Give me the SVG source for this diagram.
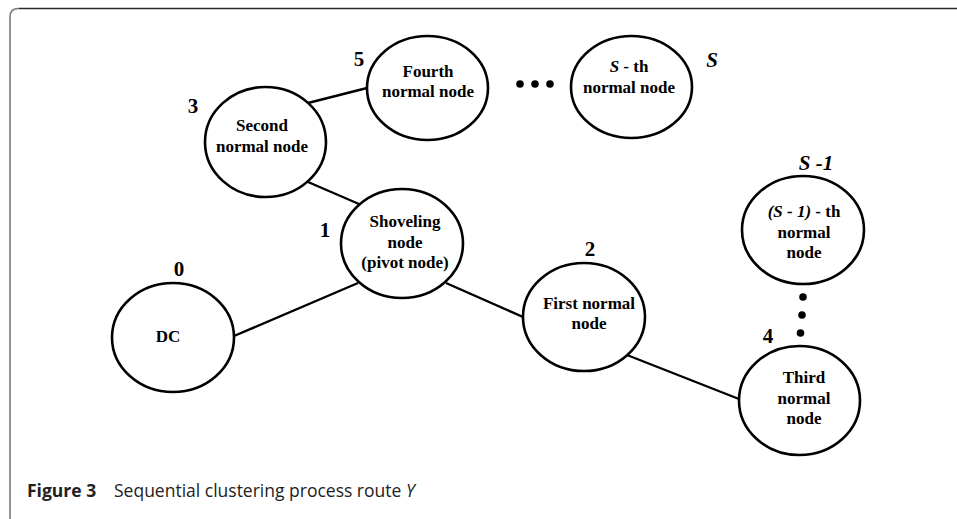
<svg xmlns="http://www.w3.org/2000/svg" width="957" height="519" viewBox="0 0 957 519">
  <style>
    .node ellipse { fill: #ffffff; stroke: #000000; stroke-width: 2.6; }
    .lbl { font-family: "Liberation Serif", "Times New Roman", serif; font-weight: bold; font-size: 17px; fill: #000; text-anchor: middle; }
    .num { font-family: "Liberation Serif", "Times New Roman", serif; font-weight: bold; font-size: 21px; fill: #000; text-anchor: middle; }
    .it { font-style: italic; }
    .edge { stroke: #000; stroke-width: 2.4; fill: none; }
    .dot { fill: #000; }
    .cap { font-family: "Open Sans", "Noto Sans", sans-serif; font-size: 17.5px; fill: #222; }
  </style>

  <!-- panel frame -->
  <path d="M 10 519 L 10 17 Q 10 8.5 18.5 8.5" fill="none" stroke="#7a7a7a" stroke-width="1.6"/>
  <path d="M 18.5 8.5 L 957 8.5" fill="none" stroke="#2a2a2a" stroke-width="1.6"/>

  <!-- connectors -->
  <g id="edges">
    <line class="edge" x1="308" y1="103" x2="367" y2="88"/>
    <line class="edge" x1="308" y1="182" x2="359" y2="204"/>
    <line class="edge" x1="234" y1="336" x2="358" y2="283"/>
    <line class="edge" x1="446" y1="283" x2="523" y2="317"/>
    <line class="edge" x1="627" y1="355" x2="739" y2="399"/>
  </g>

  <!-- nodes -->
  <g id="node-second" class="node">
    <ellipse cx="265.5" cy="142" rx="60.5" ry="55"/>
    <text class="lbl" x="262" y="131">Second</text>
    <text class="lbl" x="262" y="152">normal node</text>
    <text class="num" x="193" y="113">3</text>
  </g>

  <g id="node-fourth" class="node">
    <ellipse cx="427.5" cy="88" rx="60.5" ry="52"/>
    <text class="lbl" x="428" y="77">Fourth</text>
    <text class="lbl" x="428" y="97">normal node</text>
    <text class="num" x="359" y="66">5</text>
  </g>

  <g id="node-sth" class="node">
    <ellipse cx="631.5" cy="87" rx="60.5" ry="51"/>
    <text class="lbl" x="629" y="72"><tspan class="it">S</tspan> - th</text>
    <text class="lbl" x="629" y="93">normal node</text>
    <text class="num it" x="712" y="67" font-size="22">S</text>
  </g>

  <g id="dots-top">
    <circle class="dot" cx="520" cy="84" r="3.8"/>
    <circle class="dot" cx="535" cy="84" r="3.8"/>
    <circle class="dot" cx="550" cy="84" r="3.8"/>
  </g>

  <g id="node-shoveling" class="node">
    <ellipse cx="402" cy="243.5" rx="61" ry="54.5"/>
    <text class="lbl" x="405" y="227">Shoveling</text>
    <text class="lbl" x="405" y="248">node</text>
    <text class="lbl" x="405" y="268">(pivot node)</text>
    <text class="num" x="325" y="237">1</text>
  </g>

  <g id="node-dc" class="node">
    <ellipse cx="173" cy="337.5" rx="61" ry="54.5"/>
    <text class="lbl" x="168" y="342">DC</text>
    <text class="num" x="179" y="276">0</text>
  </g>

  <g id="node-first" class="node">
    <ellipse cx="584" cy="317" rx="61" ry="54"/>
    <text class="lbl" x="589" y="309">First normal</text>
    <text class="lbl" x="589" y="329">node</text>
    <text class="num" x="590" y="256">2</text>
  </g>

  <g id="node-s1th" class="node">
    <ellipse cx="803" cy="230" rx="61" ry="54"/>
    <text class="lbl" x="804" y="217"><tspan class="it">(S - 1)</tspan> - th</text>
    <text class="lbl" x="804" y="238">normal</text>
    <text class="lbl" x="804" y="258">node</text>
    <text class="num it" x="816" y="170" font-size="23">S -1</text>
  </g>

  <g id="dots-side">
    <circle class="dot" cx="803" cy="297" r="3.8"/>
    <circle class="dot" cx="802" cy="315" r="3.8"/>
    <circle class="dot" cx="800.5" cy="333" r="3.8"/>
  </g>

  <g id="node-third" class="node">
    <ellipse cx="799.5" cy="400.5" rx="60.5" ry="54.5"/>
    <text class="lbl" x="804" y="383">Third</text>
    <text class="lbl" x="804" y="404">normal</text>
    <text class="lbl" x="804" y="424">node</text>
    <text class="num" x="768" y="343">4</text>
  </g>

  <!-- caption -->
  <text class="cap" y="497"><tspan x="27" font-weight="bold">Figure 3</tspan><tspan x="114">Sequential clustering process route </tspan><tspan font-style="italic">Y</tspan></text>
</svg>
